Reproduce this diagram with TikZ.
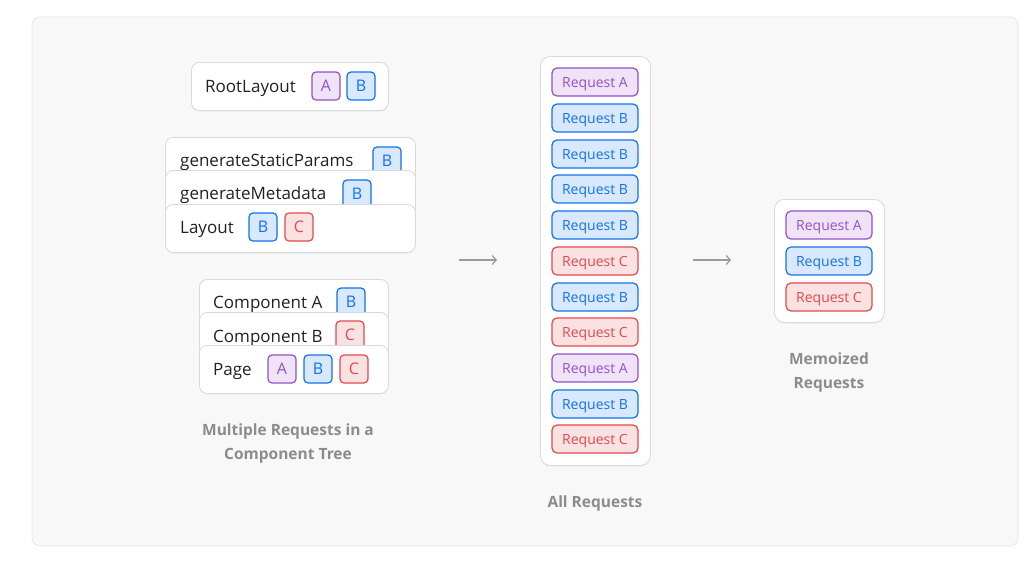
\documentclass[tikz,border=0pt]{standalone}
\usepackage{fontspec}
\setmainfont{Open Sans}
\usetikzlibrary{shadows,arrows.meta}
\definecolor{panelbg}{HTML}{F8F8F8}
\definecolor{panelline}{HTML}{E6E6E6}
\definecolor{cardline}{HTML}{D9D9D9}
\definecolor{ink}{HTML}{222222}
\definecolor{capgray}{HTML}{8C8C8C}
\definecolor{arrgray}{HTML}{9A9A9A}
\definecolor{pur}{HTML}{9351CB}
\definecolor{purfill}{HTML}{F0E3F7}
\definecolor{blu}{HTML}{1272EE}
\definecolor{blufill}{HTML}{D9E9FD}
\definecolor{red}{HTML}{E5484D}
\definecolor{redfill}{HTML}{FAE1E2}
\begin{document}
\begin{tikzpicture}[x=1pt,y=-1pt,
  card/.style={draw=cardline, fill=white, line width=0.8pt, rounded corners=8pt, anchor=north west, inner sep=0,
    drop shadow={shadow xshift=0pt, shadow yshift=-1.5pt, opacity=0.07}},
  lbl/.style={anchor=west, inner sep=0, text=ink, font=\fontsize{17}{17}\selectfont, text height=12.1pt, text depth=0pt},
  badge/.style={rounded corners=4pt, line width=1.2pt, minimum width=28pt, minimum height=28pt, inner sep=0,
    font=\fontsize{16}{16}\selectfont},
  bA/.style={badge, draw=pur, fill=purfill, text=pur},
  bB/.style={badge, draw=blu, fill=blufill, text=blu},
  bC/.style={badge, draw=red, fill=redfill, text=red},
  req/.style={rounded corners=5pt, line width=1.2pt, minimum width=86pt, minimum height=28pt, inner sep=0,
    font=\fontsize{14}{14}\selectfont, text height=10pt, text depth=0pt},
  rA/.style={req, draw=pur, fill=purfill, text=pur},
  rB/.style={req, draw=blu, fill=blufill, text=blu},
  rC/.style={req, draw=red, fill=redfill, text=red},
  caption/.style={align=center, text=capgray, inner sep=0, font=\bfseries\fontsize{15.5}{24}\selectfont},
  arr/.style={draw=arrgray, line width=1.2pt, -{Straight Barb[length=4pt,width=9pt]}}
]
\useasboundingbox (0,0) rectangle (1034,566);
\draw[fill=panelbg, draw=panelline, line width=0.8pt, rounded corners=8pt] (32,17) rectangle (1018,546);

% RootLayout
\node[card, minimum width=197pt, minimum height=48pt] (root) at (191,62) {};
\node[lbl] (rootT) at (205,86) {RootLayout};
\node[bA] (rootA) at (326,86) {A};
\node[bB] (rootB) at (361,86) {B};

% Stack 1
\node[card, minimum width=250pt, minimum height=48pt] (gsp) at (165,137) {};
\node[lbl] (gspT) at (180,160) {generateStaticParams};
\node[bB] (gspB) at (387,161) {B};
\node[card, minimum width=250pt, minimum height=48pt] (gmd) at (165,170) {};
\node[lbl] (gmdT) at (180,193) {generateMetadata};
\node[bB] (gmdB) at (357,194) {B};
\node[card, minimum width=250pt, minimum height=48pt] (lay) at (165,204) {};
\node[lbl] (layT) at (180,227) {Layout};
\node[bB] (layB) at (263,227) {B};
\node[bC] (layC) at (299,227) {C};

% Stack 2
\node[card, minimum width=189pt, minimum height=48pt] (ca) at (199,279) {};
\node[lbl] (caT) at (213,302) {Component A};
\node[bB] (caB) at (351,302) {B};
\node[card, minimum width=189pt, minimum height=48pt] (cb) at (199,312) {};
\node[lbl] (cbT) at (213,336) {Component B};
\node[bC] (cbC) at (350,335) {C};
\node[card, minimum width=189pt, minimum height=48pt] (pg) at (199,345) {};
\node[lbl] (pgT) at (213,369) {Page};
\node[bA] (pgA) at (282,369) {A};
\node[bB] (pgB) at (318,369) {B};
\node[bC] (pgC) at (354,369) {C};

\node[caption] (cap1) at (288,443) {Multiple Requests in a\\Component Tree};

% Arrow 1
\coordinate (a1s) at (459,260);
\coordinate (a1e) at (497,260);
\draw[arr] (a1s) -- (a1e);

% All requests
\node[card, minimum width=110pt, minimum height=409pt, rounded corners=10pt] (all) at (540,56) {};
\node[rA] (q1) at (595,82) {Request A};
\node[rB] (q2) at (595,118) {Request B};
\node[rB] (q3) at (595,154) {Request B};
\node[rB] (q4) at (595,189) {Request B};
\node[rB] (q5) at (595,225) {Request B};
\node[rC] (q6) at (595,261) {Request C};
\node[rB] (q7) at (595,297) {Request B};
\node[rC] (q8) at (595,332) {Request C};
\node[rA] (q9) at (595,368) {Request A};
\node[rB] (q10) at (595,404) {Request B};
\node[rC] (q11) at (595,439) {Request C};
\node[caption] (cap2) at (595,503) {All Requests};

% Arrow 2
\coordinate (a2s) at (693,260);
\coordinate (a2e) at (731,260);
\draw[arr] (a2s) -- (a2e);

% Memoized
\node[card, minimum width=110pt, minimum height=123pt, rounded corners=10pt] (memo) at (774,199) {};
\node[rA] (m1) at (829,225) {Request A};
\node[rB] (m2) at (829,261) {Request B};
\node[rC] (m3) at (829,297) {Request C};
\node[caption] (cap3) at (829,372) {Memoized\\Requests};
\end{tikzpicture}
\end{document}
